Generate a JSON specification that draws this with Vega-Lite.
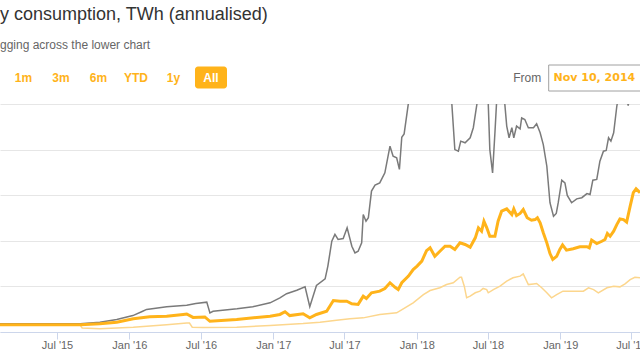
{
  "$schema": "https://vega.github.io/schema/vega-lite/v6.json",
  "background": "white",
  "padding": {"top": 5.5, "left": 0, "right": 0, "bottom": 0},
  "title": {
    "text": "y consumption, TWh (annualised)",
    "subtitle": "gging across the lower chart",
    "anchor": "start",
    "frame": "group",
    "offset": 13.3,
    "font": "Liberation Sans",
    "fontSize": 18,
    "fontWeight": "normal",
    "color": "#333333",
    "subtitleFont": "Liberation Sans",
    "subtitleFontSize": 12,
    "subtitleColor": "#666666",
    "subtitlePadding": 16.2
  },
  "config": {"view": {"stroke": null}},
  "datasets": {
    "buttons": [
      {"button": "1m"}, {"button": "3m"}, {"button": "6m"},
      {"button": "YTD"}, {"button": "1y"}, {"button": "All"}
    ],
    "range": [{"from": "Nov 10, 2014"}],
    "upper": [
      {"date": "2015-02-06", "twh": 3.6}, {"date": "2015-08-29", "twh": 3.6}, {"date": "2015-10-18", "twh": 4.3},
      {"date": "2015-11-30", "twh": 5.5}, {"date": "2016-01-10", "twh": 7.2}, {"date": "2016-02-04", "twh": 9.1},
      {"date": "2016-02-14", "twh": 9.9}, {"date": "2016-04-05", "twh": 11.1}, {"date": "2016-05-26", "twh": 11.7},
      {"date": "2016-06-18", "twh": 12.5}, {"date": "2016-07-16", "twh": 13.1}, {"date": "2016-07-24", "twh": 8.4},
      {"date": "2016-08-01", "twh": 9.1}, {"date": "2016-10-01", "twh": 10.2}, {"date": "2016-11-10", "twh": 11.1},
      {"date": "2016-12-24", "twh": 12.8}, {"date": "2017-01-18", "twh": 15.0}, {"date": "2017-02-04", "twh": 16.8},
      {"date": "2017-03-02", "twh": 18.3}, {"date": "2017-03-23", "twh": 19.8}, {"date": "2017-04-04", "twh": 11.1},
      {"date": "2017-04-21", "twh": 20.4}, {"date": "2017-05-13", "twh": 23.3}, {"date": "2017-05-20", "twh": 28.9},
      {"date": "2017-05-30", "twh": 39.8}, {"date": "2017-06-07", "twh": 42.8}, {"date": "2017-06-15", "twh": 40.6},
      {"date": "2017-06-28", "twh": 41.0}, {"date": "2017-07-08", "twh": 45.7}, {"date": "2017-07-20", "twh": 37.6},
      {"date": "2017-07-28", "twh": 34.7}, {"date": "2017-08-05", "twh": 35.4}, {"date": "2017-08-14", "twh": 39.1},
      {"date": "2017-08-18", "twh": 51.5}, {"date": "2017-08-25", "twh": 48.6}, {"date": "2017-08-31", "twh": 50.1},
      {"date": "2017-09-08", "twh": 61.8}, {"date": "2017-09-17", "twh": 64.4}, {"date": "2017-09-29", "twh": 65.4},
      {"date": "2017-10-12", "twh": 69.8}, {"date": "2017-10-25", "twh": 81.5}, {"date": "2017-11-02", "twh": 77.1},
      {"date": "2017-11-11", "twh": 76.4}, {"date": "2017-11-18", "twh": 71.3}, {"date": "2017-11-24", "twh": 85.4},
      {"date": "2017-11-30", "twh": 86.9}, {"date": "2017-12-11", "twh": 100.5}, {"date": "2018-01-09", "twh": 120},
      {"date": "2018-03-01", "twh": 125}, {"date": "2018-03-31", "twh": 101}, {"date": "2018-04-08", "twh": 80.0},
      {"date": "2018-04-17", "twh": 79.3}, {"date": "2018-04-23", "twh": 83.7}, {"date": "2018-05-04", "twh": 83.0},
      {"date": "2018-05-17", "twh": 85.2}, {"date": "2018-05-25", "twh": 89.6}, {"date": "2018-06-03", "twh": 99.8},
      {"date": "2018-06-16", "twh": 110}, {"date": "2018-07-02", "twh": 100.2}, {"date": "2018-07-06", "twh": 80.0},
      {"date": "2018-07-13", "twh": 69.8}, {"date": "2018-07-19", "twh": 87.5}, {"date": "2018-07-23", "twh": 100.2},
      {"date": "2018-08-03", "twh": 108}, {"date": "2018-08-13", "twh": 100.2}, {"date": "2018-08-18", "twh": 90.3},
      {"date": "2018-08-24", "twh": 85.2}, {"date": "2018-08-31", "twh": 89.6}, {"date": "2018-09-05", "twh": 85.2},
      {"date": "2018-09-12", "twh": 90.3}, {"date": "2018-09-21", "twh": 89.1}, {"date": "2018-09-25", "twh": 93.9},
      {"date": "2018-10-03", "twh": 93.2}, {"date": "2018-10-12", "twh": 89.6}, {"date": "2018-10-25", "twh": 89.6},
      {"date": "2018-11-02", "twh": 91.3}, {"date": "2018-11-11", "twh": 87.4}, {"date": "2018-11-19", "twh": 82.2},
      {"date": "2018-11-28", "twh": 72.7}, {"date": "2018-12-06", "twh": 56.7}, {"date": "2018-12-15", "twh": 50.8},
      {"date": "2018-12-22", "twh": 52.0}, {"date": "2018-12-27", "twh": 56.7}, {"date": "2019-01-05", "twh": 66.6},
      {"date": "2019-01-13", "twh": 65.4}, {"date": "2019-01-19", "twh": 59.9}, {"date": "2019-01-30", "twh": 56.7},
      {"date": "2019-02-12", "twh": 58.4}, {"date": "2019-02-25", "twh": 58.9}, {"date": "2019-03-10", "twh": 60.7},
      {"date": "2019-03-18", "twh": 60.3}, {"date": "2019-03-25", "twh": 66.6}, {"date": "2019-04-04", "twh": 66.9},
      {"date": "2019-04-12", "twh": 74.9}, {"date": "2019-04-21", "twh": 79.3}, {"date": "2019-04-28", "twh": 79.6},
      {"date": "2019-05-04", "twh": 85.2}, {"date": "2019-05-10", "twh": 83.7}, {"date": "2019-05-17", "twh": 87.4},
      {"date": "2019-05-25", "twh": 99.0}, {"date": "2019-06-07", "twh": 112}, {"date": "2019-06-23", "twh": 99.3},
      {"date": "2019-07-08", "twh": 115}, {"date": "2019-07-23", "twh": 118}
    ],
    "estimate": [
      {"date": "2015-02-06", "twh": 3.2}, {"date": "2015-08-29", "twh": 3.2}, {"date": "2015-10-18", "twh": 3.6},
      {"date": "2015-11-30", "twh": 4.3}, {"date": "2016-01-11", "twh": 5.8}, {"date": "2016-02-22", "twh": 6.7},
      {"date": "2016-04-05", "twh": 6.9}, {"date": "2016-05-17", "twh": 7.7}, {"date": "2016-05-26", "twh": 7.9},
      {"date": "2016-06-11", "twh": 6.4}, {"date": "2016-07-11", "twh": 6.6}, {"date": "2016-07-24", "twh": 4.7},
      {"date": "2016-09-30", "twh": 5.5}, {"date": "2016-12-24", "twh": 6.9}, {"date": "2017-01-18", "twh": 7.7},
      {"date": "2017-01-31", "twh": 8.9}, {"date": "2017-02-12", "twh": 7.2}, {"date": "2017-03-18", "twh": 8.0},
      {"date": "2017-04-04", "twh": 6.2}, {"date": "2017-04-21", "twh": 7.7}, {"date": "2017-05-17", "twh": 9.1},
      {"date": "2017-06-03", "twh": 13.8}, {"date": "2017-06-20", "twh": 13.5}, {"date": "2017-07-07", "twh": 13.5},
      {"date": "2017-07-20", "twh": 12.4}, {"date": "2017-08-05", "twh": 12.1}, {"date": "2017-08-18", "twh": 15.7},
      {"date": "2017-08-26", "twh": 14.7}, {"date": "2017-09-08", "twh": 17.2}, {"date": "2017-09-29", "twh": 17.9},
      {"date": "2017-10-12", "twh": 19.1}, {"date": "2017-10-25", "twh": 21.6}, {"date": "2017-11-07", "twh": 19.6},
      {"date": "2017-11-15", "twh": 18.6}, {"date": "2017-11-24", "twh": 21.6}, {"date": "2017-12-11", "twh": 24.5},
      {"date": "2017-12-23", "twh": 27.4}, {"date": "2018-01-02", "twh": 28.9}, {"date": "2018-01-14", "twh": 31.1},
      {"date": "2018-01-26", "twh": 35.7}, {"date": "2018-02-04", "twh": 36.9}, {"date": "2018-02-16", "twh": 33.2},
      {"date": "2018-03-01", "twh": 35.4}, {"date": "2018-03-14", "twh": 37.6}, {"date": "2018-03-27", "twh": 37.6},
      {"date": "2018-04-08", "twh": 36.2}, {"date": "2018-04-21", "twh": 39.1}, {"date": "2018-05-04", "twh": 38.4},
      {"date": "2018-05-17", "twh": 37.2}, {"date": "2018-05-30", "twh": 41.3}, {"date": "2018-06-07", "twh": 45.7},
      {"date": "2018-06-15", "twh": 44.2}, {"date": "2018-06-21", "twh": 48.6}, {"date": "2018-06-28", "twh": 45.8},
      {"date": "2018-07-06", "twh": 42.0}, {"date": "2018-07-19", "twh": 42.0}, {"date": "2018-07-27", "twh": 48.6},
      {"date": "2018-08-05", "twh": 53.0}, {"date": "2018-08-18", "twh": 54.0}, {"date": "2018-08-31", "twh": 51.5},
      {"date": "2018-09-05", "twh": 54.0}, {"date": "2018-09-12", "twh": 51.1}, {"date": "2018-09-21", "twh": 52.0},
      {"date": "2018-09-29", "twh": 53.7}, {"date": "2018-10-09", "twh": 50.1}, {"date": "2018-10-20", "twh": 49.0},
      {"date": "2018-10-29", "twh": 49.3}, {"date": "2018-11-04", "twh": 50.1}, {"date": "2018-11-11", "twh": 47.9},
      {"date": "2018-11-19", "twh": 43.5}, {"date": "2018-11-28", "twh": 39.1}, {"date": "2018-12-06", "twh": 34.4},
      {"date": "2018-12-13", "twh": 31.8}, {"date": "2018-12-23", "twh": 33.2}, {"date": "2018-12-31", "twh": 36.2},
      {"date": "2019-01-07", "twh": 38.2}, {"date": "2019-01-17", "twh": 35.9}, {"date": "2019-02-03", "twh": 36.5},
      {"date": "2019-02-20", "twh": 37.4}, {"date": "2019-03-10", "twh": 37.4}, {"date": "2019-03-16", "twh": 36.9},
      {"date": "2019-03-22", "twh": 40.3}, {"date": "2019-04-04", "twh": 38.8}, {"date": "2019-04-17", "twh": 39.8},
      {"date": "2019-04-25", "twh": 40.6}, {"date": "2019-05-01", "twh": 43.2}, {"date": "2019-05-08", "twh": 42.0},
      {"date": "2019-05-17", "twh": 44.2}, {"date": "2019-05-25", "twh": 47.1}, {"date": "2019-06-02", "twh": 49.6},
      {"date": "2019-06-11", "twh": 49.3}, {"date": "2019-06-19", "twh": 48.2}, {"date": "2019-06-28", "twh": 55.2},
      {"date": "2019-07-06", "twh": 61.1}, {"date": "2019-07-13", "twh": 62.8}, {"date": "2019-07-23", "twh": 61.1}
    ],
    "lower": [
      {"date": "2015-02-06", "twh": 3.0}, {"date": "2015-08-29", "twh": 3.0}, {"date": "2015-09-03", "twh": 1.8},
      {"date": "2015-10-18", "twh": 1.4}, {"date": "2016-01-11", "twh": 2.1}, {"date": "2016-04-05", "twh": 3.2},
      {"date": "2016-05-26", "twh": 3.9}, {"date": "2016-06-02", "twh": 3.9}, {"date": "2016-06-09", "twh": 2.1},
      {"date": "2016-07-06", "twh": 2.0}, {"date": "2016-09-30", "twh": 2.1}, {"date": "2016-12-24", "twh": 2.9},
      {"date": "2017-03-18", "twh": 3.7}, {"date": "2017-04-30", "twh": 4.3}, {"date": "2017-06-11", "twh": 5.2},
      {"date": "2017-07-15", "twh": 5.8}, {"date": "2017-08-18", "twh": 6.2}, {"date": "2017-09-29", "twh": 7.7},
      {"date": "2017-11-11", "twh": 8.4}, {"date": "2017-12-02", "twh": 10.6}, {"date": "2017-12-23", "twh": 12.8},
      {"date": "2018-01-18", "twh": 16.4}, {"date": "2018-02-04", "twh": 18.2}, {"date": "2018-03-01", "twh": 19.4},
      {"date": "2018-03-18", "twh": 20.8}, {"date": "2018-04-04", "twh": 21.6}, {"date": "2018-04-21", "twh": 24.0},
      {"date": "2018-04-25", "twh": 24.0}, {"date": "2018-05-02", "twh": 20.1}, {"date": "2018-05-08", "twh": 15.0},
      {"date": "2018-05-17", "twh": 15.7}, {"date": "2018-05-30", "twh": 17.2}, {"date": "2018-06-11", "twh": 17.9},
      {"date": "2018-06-19", "twh": 19.1}, {"date": "2018-06-28", "twh": 18.6}, {"date": "2018-07-02", "twh": 17.2},
      {"date": "2018-07-15", "twh": 18.6}, {"date": "2018-08-01", "twh": 20.1}, {"date": "2018-08-18", "twh": 22.3},
      {"date": "2018-09-03", "twh": 23.8}, {"date": "2018-09-21", "twh": 24.5}, {"date": "2018-09-29", "twh": 25.5},
      {"date": "2018-10-12", "twh": 20.8}, {"date": "2018-10-25", "twh": 21.1}, {"date": "2018-11-02", "twh": 21.3},
      {"date": "2018-11-15", "twh": 19.4}, {"date": "2018-11-28", "twh": 17.2}, {"date": "2018-12-10", "twh": 15.0},
      {"date": "2018-12-23", "twh": 16.4}, {"date": "2019-01-08", "twh": 17.9}, {"date": "2019-02-03", "twh": 17.9},
      {"date": "2019-03-01", "twh": 17.9}, {"date": "2019-03-14", "twh": 19.4}, {"date": "2019-03-27", "twh": 18.6},
      {"date": "2019-04-08", "twh": 17.2}, {"date": "2019-04-30", "twh": 19.4}, {"date": "2019-05-17", "twh": 20.1},
      {"date": "2019-06-02", "twh": 19.8}, {"date": "2019-06-15", "twh": 21.1}, {"date": "2019-06-28", "twh": 23.0},
      {"date": "2019-07-10", "twh": 24.0}, {"date": "2019-07-23", "twh": 23.8}
    ]
  },
  "vconcat": [
    {
      "hconcat": [
        {
          "width": 234.5,
          "height": 22,
          "data": {"name": "buttons"},
          "encoding": {
            "x": {
              "field": "button",
              "type": "nominal",
              "sort": null,
              "scale": {"domain": ["1m", "3m", "6m", "YTD", "1y", "All"], "paddingInner": 0.1467, "paddingOuter": 0.2},
              "axis": null
            }
          },
          "layer": [
            {
              "transform": [{"filter": "datum.button === 'All'"}],
              "mark": {"type": "bar", "color": "#FFB31A", "cornerRadius": 3}
            },
            {
              "mark": {"type": "text", "font": "Liberation Sans", "fontSize": 12, "fontWeight": "bold"},
              "encoding": {
                "text": {"field": "button"},
                "color": {"condition": {"test": "datum.button === 'All'", "value": "#ffffff"}, "value": "#FFB31A"}
              }
            }
          ]
        },
        {
          "width": 92.3,
          "height": 26,
          "view": {"stroke": "#a0a0a0", "fill": "white"},
          "title": {
            "text": "From",
            "orient": "left",
            "angle": 0,
            "anchor": "middle",
            "align": "left",
            "baseline": "middle",
            "offset": 7,
            "font": "Liberation Sans",
            "fontSize": 12,
            "fontWeight": "normal",
            "color": "#666666"
          },
          "data": {"name": "range"},
          "mark": {"type": "text", "font": "DejaVu Sans", "fontSize": 11, "fontWeight": "bold", "color": "#FFB31A"},
          "encoding": {"text": {"field": "from"}}
        }
      ],
      "spacing": 313.2,
      "bounds": "flush",
      "center": true
    },
    {
      "width": 640,
      "height": 228,
      "encoding": {
        "x": {
          "field": "date",
          "type": "temporal",
          "title": null,
          "scale": {
            "type": "utc",
            "domain": [
              {"year": 2015, "month": 2, "date": 6, "utc": true},
              {"year": 2019, "month": 7, "date": 23, "utc": true}
            ]
          },
          "axis": {
            "values": [
              {"year": 2015, "month": 7, "date": 1, "utc": true},
              {"year": 2016, "month": 1, "date": 1, "utc": true},
              {"year": 2016, "month": 7, "date": 1, "utc": true},
              {"year": 2017, "month": 1, "date": 1, "utc": true},
              {"year": 2017, "month": 7, "date": 1, "utc": true},
              {"year": 2018, "month": 1, "date": 1, "utc": true},
              {"year": 2018, "month": 7, "date": 1, "utc": true},
              {"year": 2019, "month": 1, "date": 1, "utc": true},
              {"year": 2019, "month": 7, "date": 1, "utc": true}
            ],
            "labelExpr": "utcFormat(datum.value, \"%b '%y\")",
            "labelFont": "Liberation Sans",
            "labelFontSize": 11,
            "labelColor": "#666666",
            "labelFlush": false,
            "labelOverlap": false,
            "labelPadding": 0,
            "domainColor": "#ccd6eb",
            "tickColor": "#ccd6eb",
            "tickSize": 7,
            "grid": false
          }
        },
        "y": {
          "field": "twh",
          "type": "quantitative",
          "title": null,
          "scale": {"domain": [0, 100], "nice": false},
          "axis": {
            "values": [0, 20, 40, 60, 80, 100],
            "labels": false,
            "ticks": false,
            "domain": false,
            "grid": true,
            "gridColor": "#e6e6e6"
          }
        }
      },
      "layer": [
        {"data": {"name": "upper"}, "mark": {"type": "line", "color": "#7a7a7a", "strokeWidth": 1.5, "clip": true}},
        {"data": {"name": "lower"}, "mark": {"type": "line", "color": "#fcd68d", "strokeWidth": 1.5, "clip": true}},
        {"data": {"name": "estimate"}, "mark": {"type": "line", "color": "#FFB31A", "strokeWidth": 3, "clip": true}}
      ]
    }
  ],
  "spacing": 12.5
}
